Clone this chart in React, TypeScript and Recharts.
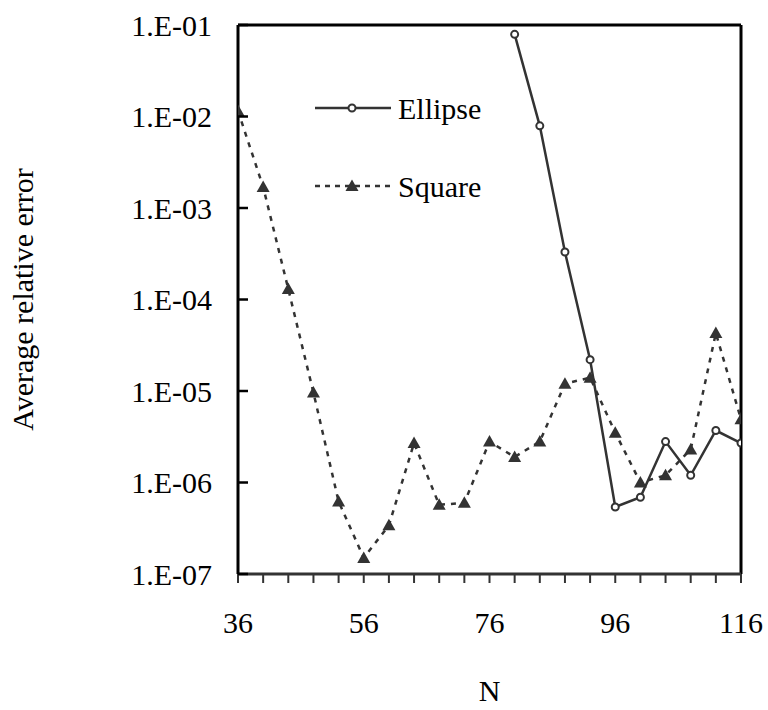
import React from 'react';
import { LineChart, Line, XAxis, YAxis, ReferenceLine, Legend } from 'recharts';

// N values (step 4) and average relative error
const squareN = [36, 40, 44, 48, 52, 56, 60, 64, 68, 72, 76, 80, 84, 88, 92, 96, 100, 104, 108, 112, 116];
const squareErr = [
  1.15e-2, 1.7e-3, 1.3e-4, 9.6e-6, 6.2e-7, 1.5e-7, 3.4e-7, 2.7e-6, 5.7e-7, 6.0e-7, 2.8e-6,
  1.9e-6, 2.8e-6, 1.2e-5, 1.4e-5, 3.5e-6, 1.0e-6, 1.2e-6, 2.3e-6, 4.3e-5, 4.9e-6,
];

const ellipseN = [80, 84, 88, 92, 96, 100, 104, 108, 112, 116];
const ellipseErr = [7.9e-2, 7.9e-3, 3.3e-4, 2.2e-5, 5.4e-7, 6.9e-7, 2.8e-6, 1.2e-6, 3.7e-6, 2.7e-6];

const xTicks = [36, 40, 44, 48, 52, 56, 60, 64, 68, 72, 76, 80, 84, 88, 92, 96, 100, 104, 108, 112, 116];
const yTicks = [1e-7, 1e-6, 1e-5, 1e-4, 1e-3, 1e-2, 1e-1];

const squareData = squareN.map((n, i) => ({ n, err: squareErr[i] }));
const ellipseData = ellipseN.map((n, i) => ({ n, err: ellipseErr[i] }));

const FONT = "'Liberation Serif', 'Times New Roman', serif";
const FS = 30;
const INK = '#333';

const fmtY = (v: number) => {
  const e = Math.round(-Math.log10(v));
  return `1.E-${e < 10 ? '0' + e : e}`;
};

const YTick = ({ x, y, payload }: any) => (
  <g>
    <line x1={x} y1={y} x2={x + 10} y2={y} stroke="#000" strokeWidth={2.5} />
    <text x={x - 26} y={y} textAnchor="end" dominantBaseline="central" fontFamily={FONT} fontSize={FS} fill="#000">
      {fmtY(payload.value)}
    </text>
  </g>
);

const XTick = ({ x, y, payload }: any) => (
  <g>
    <line x1={x} y1={y} x2={x} y2={y + 9} stroke={INK} strokeWidth={2} />
    {(payload.value - 16) % 20 === 0 && (
      <text x={x} y={y + 48} textAnchor="middle" dominantBaseline="central" fontFamily={FONT} fontSize={FS} fill="#000">
        {payload.value}
      </text>
    )}
  </g>
);

const CircleDot = ({ cx, cy }: any) =>
  cx == null ? null : <circle cx={cx} cy={cy} r={3.5} fill="#fff" stroke={INK} strokeWidth={2} />;

const TriDot = ({ cx, cy }: any) =>
  cx == null ? null : (
    <polygon points={`${cx},${cy - 6.5} ${cx - 6.5},${cy + 5} ${cx + 6.5},${cy + 5}`} fill={INK} />
  );

const LegendBox = () => (
  <svg width={180} height={110} style={{ overflow: 'visible', display: 'block' }}>
    <line x1={0} y1={8} x2={76} y2={8} stroke={INK} strokeWidth={2.5} />
    <circle cx={37} cy={8} r={3.5} fill="#fff" stroke={INK} strokeWidth={2} />
    <text x={83} y={8} dominantBaseline="central" fontFamily={FONT} fontSize={FS} fill="#000">Ellipse</text>
    <line x1={0} y1={86} x2={76} y2={86} stroke={INK} strokeWidth={2.5} strokeDasharray="5 5" />
    <polygon points="37,79.5 30.5,91 43.5,91" fill={INK} />
    <text x={83} y={86} dominantBaseline="central" fontFamily={FONT} fontSize={FS} fill="#000">Square</text>
  </svg>
);

export default function App() {
  return (
    <div style={{ position: 'absolute', left: 0, top: 0, width: 768, height: 710, background: '#fff' }}>
      <LineChart width={768} height={710} margin={{ top: 25, right: 27, left: 0, bottom: 0 }}>
        <XAxis
          dataKey="n"
          type="number"
          domain={[36, 116]}
          ticks={xTicks}
          interval={0}
          allowDataOverflow
          height={136}
          tickSize={0}
          tickMargin={0}
          tick={<XTick />}
          axisLine={{ stroke: INK, strokeWidth: 3 }}
          label={{ value: 'N', position: 'bottom', offset: -30, fontFamily: FONT, fontSize: FS, fill: '#000' }}
        />
        <YAxis
          dataKey="err"
          scale="log"
          domain={[1e-7, 1e-1]}
          ticks={yTicks}
          interval={0}
          allowDataOverflow
          width={238}
          tickSize={0}
          tickMargin={0}
          tick={<YTick />}
          axisLine={{ stroke: '#000', strokeWidth: 3 }}
          label={{
            value: 'Average relative error',
            angle: -90,
            position: 'insideLeft',
            offset: 22,
            fontFamily: FONT,
            fontSize: FS,
            fill: '#000',
            style: { textAnchor: 'middle' },
          }}
        />
        <ReferenceLine y={1e-1} stroke="#000" strokeWidth={3} />
        <ReferenceLine x={116} stroke="#000" strokeWidth={3} />
        <Legend
          layout="horizontal"
          verticalAlign="middle"
          align="center"
          wrapperStyle={{ position: 'absolute', left: 315, top: 100, width: 200 }}
          content={() => <LegendBox />}
        />
        <Line
          data={squareData}
          dataKey="err"
          name="Square"
          stroke={INK}
          strokeWidth={2.5}
          strokeDasharray="5 6"
          dot={<TriDot />}
          isAnimationActive={false}
        />
        <Line
          data={ellipseData}
          dataKey="err"
          name="Ellipse"
          stroke={INK}
          strokeWidth={2.5}
          dot={<CircleDot />}
          isAnimationActive={false}
        />
      </LineChart>
    </div>
  );
}
